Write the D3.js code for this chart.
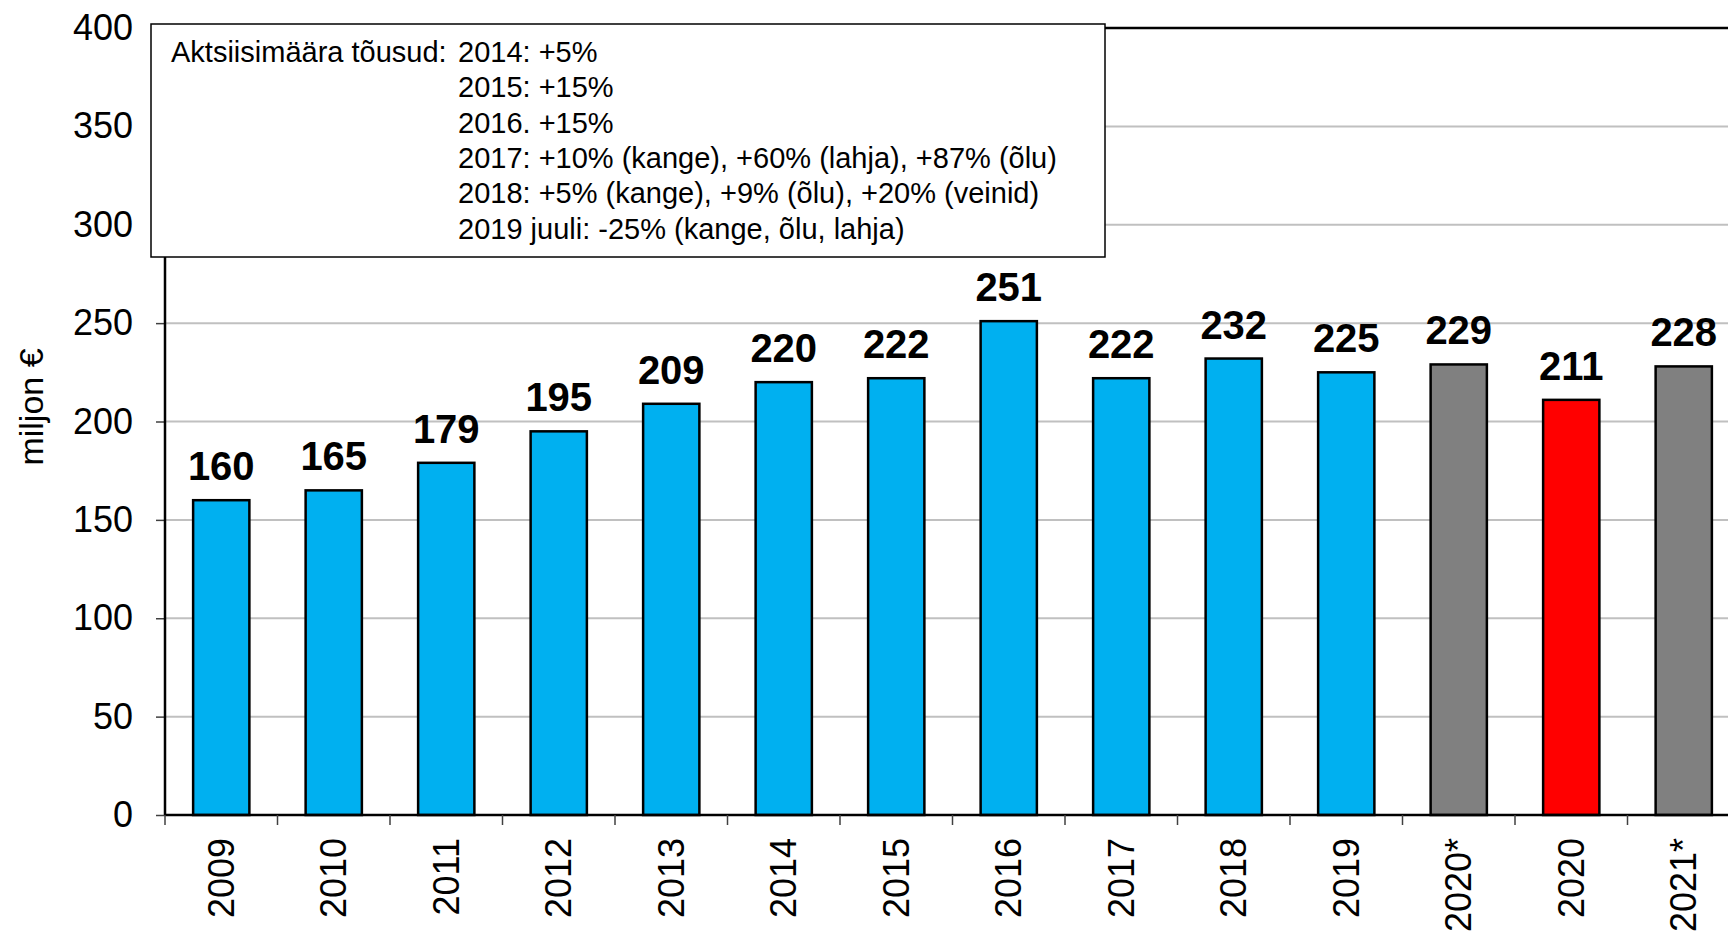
<!DOCTYPE html>
<html>
<head>
<meta charset="utf-8">
<script src="https://cdn.jsdelivr.net/npm/d3@7"></script>
<style>
  body { margin: 0; background: #fff; }
  svg { display: block; font-family: "Liberation Sans", Arial, sans-serif; }
</style>
</head>
<body>
<div id="chart"></div>
<script>
const categories = ["2009", "2010", "2011", "2012", "2013", "2014", "2015", "2016", "2017", "2018", "2019", "2020*", "2020", "2021*"];
const values = [160, 165, 179, 195, 209, 220, 222, 251, 222, 232, 225, 229, 211, 228];
const barColors = ["#00B0F0", "#00B0F0", "#00B0F0", "#00B0F0", "#00B0F0", "#00B0F0", "#00B0F0", "#00B0F0", "#00B0F0", "#00B0F0", "#00B0F0", "#808080", "#FF0000", "#808080"];
const yTicks = [0, 50, 100, 150, 200, 250, 300, 350, 400];
const noteTitle = "Aktsiisimäära tõusud:";
const noteLines = [
    "2014: +5%",
    "2015: +15%",
    "2016. +15%",
    "2017: +10% (kange), +60% (lahja), +87% (õlu)",
    "2018: +5% (kange), +9% (õlu), +20% (veinid)",
    "2019 juuli: -25% (kange, õlu, lahja)"
];

const width = 1728, height = 934;
const plotLeft = 165, plotTop = 28, plotBottom = 815;

const svg = d3.select("#chart").append("svg")
    .attr("width", width)
    .attr("height", height);

const x = d3.scaleBand()
    .domain(categories)
    .range([plotLeft, plotLeft + categories.length * 112.5])
    .paddingInner(0.5)
    .paddingOuter(0.25);

const y = d3.scaleLinear()
    .domain([0, 400])
    .range([plotBottom, plotTop]);

// Gridlines
svg.append("g")
    .selectAll("line")
    .data(yTicks.filter(d => d > 0 && d < 400))
    .enter()
    .append("line")
    .attr("x1", plotLeft)
    .attr("x2", width)
    .attr("y1", d => y(d))
    .attr("y2", d => y(d))
    .attr("stroke", "#c0c0c0")
    .attr("stroke-width", 2);

// Top frame line
svg.append("line")
    .attr("x1", plotLeft).attr("x2", width)
    .attr("y1", y(400)).attr("y2", y(400))
    .attr("stroke", "#000").attr("stroke-width", 2.5);

// Y axis
const yAxis = svg.append("g")
    .attr("transform", `translate(${plotLeft},0)`)
    .call(d3.axisLeft(y).tickValues(yTicks).tickSize(9).tickPadding(23));
yAxis.select(".domain").remove();
yAxis.selectAll(".tick line").attr("stroke", "#404040").attr("stroke-width", 1.5);
yAxis.selectAll(".tick text")
    .attr("fill", "#000")
    .style("font-size", "36px")
    .style("font-family", "'Liberation Sans', Arial, sans-serif");

svg.append("line")
    .attr("x1", plotLeft).attr("x2", plotLeft)
    .attr("y1", y(400)).attr("y2", plotBottom)
    .attr("stroke", "#000").attr("stroke-width", 2.5);

// Bars
svg.selectAll(".bar")
    .data(values)
    .enter()
    .append("rect")
    .attr("class", "bar")
    .attr("x", (d, i) => x(categories[i]))
    .attr("y", d => y(d))
    .attr("width", x.bandwidth())
    .attr("height", d => plotBottom - y(d))
    .attr("fill", (d, i) => barColors[i])
    .attr("stroke", "#000")
    .attr("stroke-width", 2.5);

// Value labels
svg.selectAll(".value")
    .data(values)
    .enter()
    .append("text")
    .attr("class", "value")
    .attr("x", (d, i) => x(categories[i]) + x.bandwidth() / 2)
    .attr("y", d => y(d) - 20)
    .attr("text-anchor", "middle")
    .style("font-size", "40px")
    .style("font-weight", "bold")
    .text(d => d);

// X axis line and ticks at band boundaries
svg.append("line")
    .attr("x1", plotLeft).attr("x2", width)
    .attr("y1", plotBottom).attr("y2", plotBottom)
    .attr("stroke", "#000").attr("stroke-width", 2.5);

svg.append("g")
    .selectAll("line")
    .data(d3.range(categories.length + 1))
    .enter()
    .append("line")
    .attr("x1", i => plotLeft + i * x.step())
    .attr("x2", i => plotLeft + i * x.step())
    .attr("y1", plotBottom)
    .attr("y2", plotBottom + 10)
    .attr("stroke", "#404040")
    .attr("stroke-width", 1.5);

// X labels, rotated
svg.append("g")
    .selectAll("text")
    .data(categories)
    .enter()
    .append("text")
    .attr("transform", d => `translate(${x(d) + x.bandwidth() / 2},838) rotate(-90)`)
    .attr("dy", "0.35em")
    .attr("text-anchor", "end")
    .style("font-size", "36px")
    .text(d => d);

// Y axis title
svg.append("text")
    .attr("transform", "translate(43,407) rotate(-90)")
    .attr("text-anchor", "middle")
    .style("font-size", "34px")
    .text("miljon €");

// Annotation box
const note = svg.append("g");
note.append("rect")
    .attr("x", 151)
    .attr("y", 24)
    .attr("width", 954)
    .attr("height", 233)
    .attr("fill", "#fff")
    .attr("stroke", "#000")
    .attr("stroke-width", 1.5);

note.append("text")
    .attr("x", 171)
    .attr("y", 62)
    .style("font-size", "29px")
    .text(noteTitle);

note.selectAll(".note-line")
    .data(noteLines)
    .enter()
    .append("text")
    .attr("class", "note-line")
    .attr("x", 458)
    .attr("y", (d, i) => 62 + i * 35.3)
    .style("font-size", "29px")
    .text(d => d);
</script>
</body>
</html>
